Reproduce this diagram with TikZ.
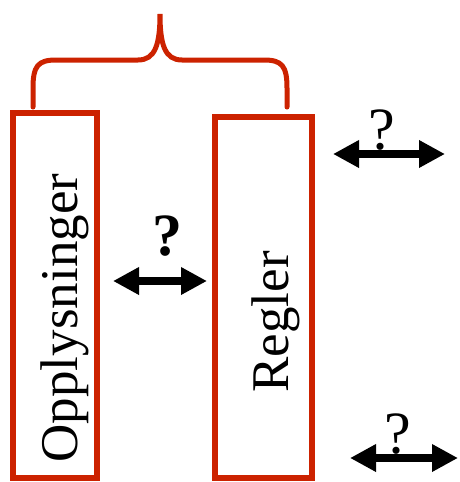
\documentclass[tikz,border=0pt]{standalone}
\usepackage{fontspec}
\setmainfont{Liberation Serif}
\usetikzlibrary{arrows.meta}
\definecolor{boxred}{RGB}{204,34,0}
\begin{document}
\begin{tikzpicture}[x=1pt,y=-1pt,
  box/.style={draw=boxred,line width=5.5pt,rectangle,inner sep=0pt,outer sep=0pt},
  label/.style={rotate=90,anchor=base,inner sep=0pt,font=\fontsize{53}{60}\selectfont},
  qmark/.style={anchor=base,inner sep=0pt,font=\fontsize{60}{66}\selectfont},
  biarrow/.style={line width=7.5pt,{Triangle[length=26pt,width=26pt]}-{Triangle[length=26pt,width=26pt]}}]
  \useasboundingbox (0,0) rectangle (459,482);

  % the two boxes
  \node[box,minimum width=84pt,minimum height=365pt] (info) at (55,295.5) {};
  \node[box,minimum width=97pt,minimum height=361pt] (rules) at (263.5,297.5) {};
  \node[label] (infotext) at (77,318) {Opplysninger};
  \node[label] (rulestext) at (288,322) {Regler};

  % curly brace over both boxes
  \draw[boxred,line width=5pt,line cap=round]
    (33,107) -- (33,88) .. controls (33,66) and (38,60) .. (56,60) -- (138,60)
    .. controls (155,60) and (160,45) .. (160,14)
    .. controls (160,45) and (165,60) .. (182,60) -- (264,60)
    .. controls (282,60) and (287,66) .. (287,88) -- (287,107);

  % double-headed arrows with question marks
  \coordinate (m1) at (113,281);
  \coordinate (m2) at (207,281);
  \draw[biarrow] (m1) -- (m2);
  \node[qmark,font=\fontsize{60}{66}\selectfont\bfseries] (q1) at (167,255) {?};

  \coordinate (t1) at (333,154);
  \coordinate (t2) at (445,154);
  \draw[biarrow] (t1) -- (t2);
  \node[qmark] (q2) at (382,149) {?};

  \coordinate (b1) at (350,458);
  \coordinate (b2) at (458,458);
  \draw[biarrow] (b1) -- (b2);
  \node[qmark] (q3) at (398,453) {?};
\end{tikzpicture}
\end{document}
